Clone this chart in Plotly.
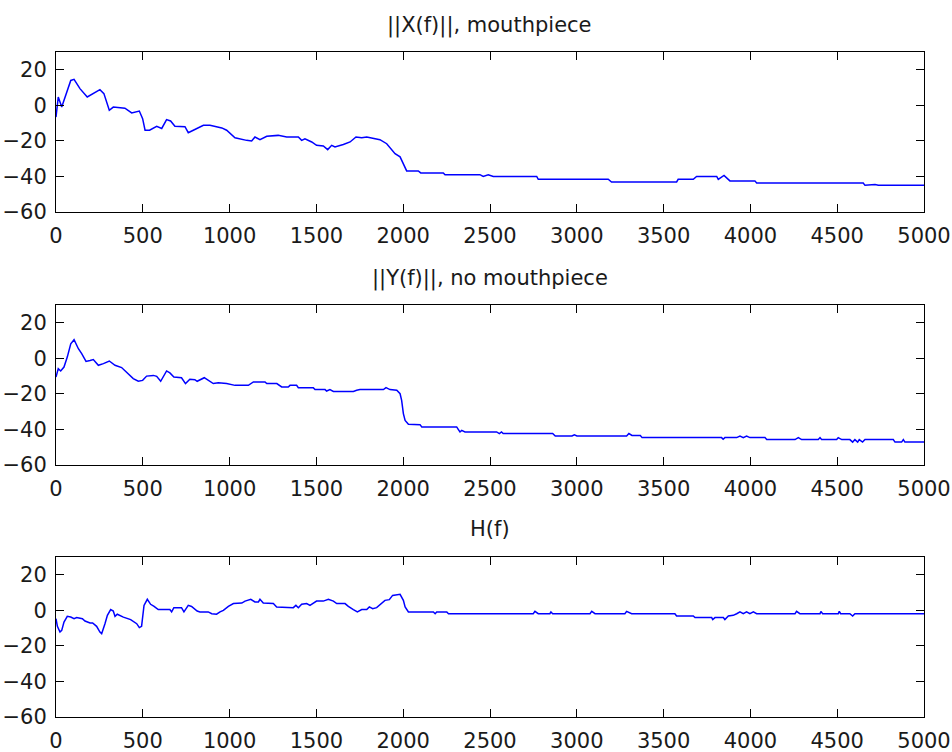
import plotly.graph_objects as go

# ---------------- data ----------------
X_f = [0, 13, 33, 52, 85, 104, 138, 180, 253, 276, 307, 330, 397, 436, 480, 499, 513, 539, 580, 609,
       637, 660, 685, 743, 762, 791, 849, 887, 955, 983, 1031, 1098, 1127, 1146, 1175, 1214, 1280, 1329, 1396, 1415,
       1434, 1473, 1501, 1540, 1565, 1588, 1607, 1655, 1694, 1728, 1761, 1790, 1866, 1905, 1953, 1982, 2001, 2020, 2087, 2101,
       2231, 2241, 2442, 2461, 2490, 2519, 2769, 2778, 3181, 3200, 3575, 3584, 3671, 3690, 3806, 3815, 3848, 3882, 4026, 4036,
       4650, 4660, 4718, 4737, 5000]
X_db = [-6.6, 4.7, -1, 4.7, 14, 14.6, 9.4, 4.7, 8.8, 6.6, -2.8, -1, -1.6, -4.3, -3.2, -7.5, -14, -14, -11.8, -13,
        -8, -8.8, -11.8, -12, -15.4, -14, -11.2, -11.2, -12.7, -14, -18.2, -19.7, -20, -17.8, -19.3, -17.4, -16.9, -17.8, -17.8, -19.7,
        -18.8, -20.6, -22.5, -22.9, -24.9, -22.5, -23.4, -22, -20.6, -17.8, -18.2, -17.8, -19.3, -21.6, -27.2, -29, -32.8, -36.9, -36.9, -38,
        -38, -39, -39, -40, -39, -40, -40, -41.6, -41.6, -43.1, -43.1, -41.6, -41.6, -40, -40, -41.6, -39.4, -42.5, -42.5, -43.7,
        -43.7, -45, -44.6, -45, -45]

Y_f = [0, 13, 27, 46, 65, 85, 104, 129, 148, 173,
       196, 215, 244, 273, 307, 340, 378, 417, 445, 474,
       499, 522, 561, 580, 603, 637, 656, 679, 723, 746,
       771, 800, 813, 854, 877, 906, 935, 983, 1031, 1108,
       1137, 1204, 1214, 1272, 1300, 1338, 1348, 1386, 1396, 1482,
       1492, 1550, 1559, 1578, 1598, 1713, 1732, 1751, 1886, 1901,
       1924, 1963, 1982, 1991, 2001, 2011, 2030, 2097, 2107, 2308,
       2318, 2327, 2337, 2356, 2538, 2554, 2566, 2576, 2861, 2876,
       2972, 2986, 3001, 3287, 3300, 3318, 3366, 3376, 3834, 3843,
       3853, 3921, 3940, 3959, 3978, 3997, 4084, 4094, 4257, 4276,
       4295, 4391, 4401, 4410, 4497, 4506, 4526, 4573, 4589, 4602,
       4618, 4627, 4646, 4660, 4823, 4833, 4871, 4881, 4890, 5000]
Y_db = [-10.5, -5.8, -7.1, -4.9, 0.7, 8.2, 10.5, 5.4, 2.6, -1.7,
        -1.2, -0.7, -3.9, -3, -1.5, -3.9, -5.2, -8.6, -11.4, -12.9,
        -12.4, -10, -9.6, -10.1, -12.9, -7.1, -8.2, -10.5, -10.9, -14.2,
        -11.8, -12, -12.9, -10.9, -12.4, -14.2, -13.8, -14.2, -15.2, -15.2,
        -13.3, -13.3, -14.2, -14.2, -16.1, -16.1, -15.2, -15.2, -16.5, -16.5,
        -17.6, -17.6, -18.4, -17.6, -18.6, -18.6, -18, -17.6, -17.6, -16.5,
        -17.6, -18, -19.9, -23.6, -31.1, -34.9, -37.1, -37.3, -38.6, -38.6,
        -40.1, -41.4, -40.5, -41.4, -41.4, -42.3, -41.4, -42.3, -42.3, -43.7,
        -43.7, -43, -43.7, -43.7, -42.3, -43.4, -43.4, -44.6, -44.6, -45.5,
        -44.6, -44.6, -43.7, -44.6, -43.7, -44.6, -44.6, -45.7, -45.7, -44.6,
        -45.7, -45.7, -44.6, -45.7, -45.7, -44.6, -45.7, -45.7, -47.1, -45.7,
        -47.1, -45.7, -47.1, -45.7, -45.7, -47.1, -47.1, -45.7, -47.1, -47.1]

H_f = [0, 8, 23, 33, 46, 65, 85, 104, 119, 152,
       167, 196, 211, 234, 253, 263, 282, 296, 315, 330,
       340, 353, 388, 430, 465, 480, 493, 499, 507, 526,
       545, 565, 589, 656, 666, 679, 723, 737, 762, 781,
       813, 829, 877, 897, 925, 945, 964, 993, 1022, 1070,
       1089, 1122, 1146, 1166, 1175, 1194, 1252, 1271, 1367, 1382,
       1396, 1415, 1444, 1463, 1486, 1501, 1540, 1569, 1598, 1617,
       1665, 1684, 1713, 1736, 1761, 1790, 1805, 1824, 1847, 1876,
       1895, 1920, 1939, 1982, 2001, 2011, 2030, 2174, 2184, 2193,
       2251, 2261, 2280, 2749, 2759, 2778, 2845, 2851, 2861, 3076,
       3086, 3105, 3277, 3287, 3316, 3565, 3575, 3671, 3681, 3777,
       3783, 3796, 3844, 3853, 3873, 3901, 3921, 3940, 3959, 3978,
       3997, 4017, 4036, 4257, 4266, 4285, 4401, 4406, 4416, 4506,
       4512, 4520, 4573, 4589, 4602, 5000]
H_db = [-4.7, -9, -12.2, -11.3, -6.6, -3.4, -3.8, -4.7, -4.1, -4.7,
        -6, -7.1, -7.1, -9, -12.2, -13.1, -7.5, -2.8, 0.4, -0.4,
        -3.4, -2.2, -3.8, -5.2, -7.5, -9.7, -9, -4.7, 2.8, 6.2,
        3.4, 2.2, 0.4, 0.4, -0.9, 1.5, 1.5, -0.9, 2.8, 2.2,
        -0.4, -0.9, -0.9, -1.9, -2.2, -0.9, 0, 2.2, 3.8, 4.1,
        5.2, 6.2, 4.7, 4.7, 6.2, 4.1, 3.8, 1.9, 1.5, 2.8,
        1.5, 3.4, 3.8, 2.8, 4.1, 5.2, 5.2, 6.2, 5.2, 3.8,
        3.8, 2.2, 0.4, -0.9, 0.4, 0.4, 1.9, 0.9, 1.5, 3.8,
        5.6, 6, 8.4, 9, 5.6, 1.9, -0.9, -0.9, -1.9, -0.9,
        -0.9, -1.9, -1.9, -1.9, -0.6, -1.9, -1.9, -0.9, -1.9, -1.9,
        -0.6, -1.9, -1.9, -0.6, -1.9, -1.9, -3.2, -3.2, -4.1, -4.1,
        -5.2, -4.1, -4.1, -5.2, -3.2, -2.8, -1.9, -0.9, -1.9, -0.9,
        -1.9, -0.9, -1.9, -1.9, -0.6, -1.9, -1.9, -0.6, -1.9, -1.9,
        -0.6, -1.9, -1.9, -3.2, -1.9, -1.9]

titles = ["||X(f)||, mouthpiece", "||Y(f)||, no mouthpiece", "H(f)"]
x_ticks = list(range(0, 5001, 500))
y_ticks = [-60, -40, -20, 0, 20]

# ---------------- layout geometry (pixels) ----------------
W, H = 952, 752
left, right = 56, 924
panels = [(52, 212), (305, 465), (557, 717)]   # top, bottom in px
title_y = [26, 278, 529]

FONT = dict(family="DejaVu Sans", size=21, color="#1a1a1a")

fig = go.Figure()
series = [(X_f, X_db), (Y_f, Y_db), (H_f, H_db)]
for i, (fx, fy) in enumerate(series):
    n = "" if i == 0 else str(i + 1)
    fig.add_trace(go.Scatter(x=fx, y=fy, mode="lines",
                             line=dict(color="#0000ff", width=1.5),
                             xaxis="x" + n, yaxis="y" + n, showlegend=False,
                             hoverinfo="skip"))
    top, bot = panels[i]
    common = dict(showline=True, linecolor="black", linewidth=1, mirror="ticks",
                  ticks="inside", ticklen=8, tickwidth=1, tickcolor="black",
                  showgrid=False, zeroline=False, tickfont=FONT, automargin=False)
    fig.layout["xaxis" + n] = dict(domain=[left / W, right / W], range=[0, 5000],
                                   tickvals=x_ticks, anchor="y" + n,
                                   ticklabelstandoff=5, **common)
    fig.layout["yaxis" + n] = dict(domain=[1 - bot / H, 1 - top / H], range=[-60, 30],
                                   tickvals=y_ticks, anchor="x" + n,
                                   ticklabelstandoff=4, **common)
    fig.add_annotation(text=titles[i], x=(left + right) / 2 / W, y=1 - title_y[i] / H,
                       xref="paper", yref="paper", xanchor="center", yanchor="middle",
                       showarrow=False, font=FONT)

fig.update_layout(template="none", width=W, height=H, margin=dict(l=0, r=0, t=0, b=0, pad=0),
                  paper_bgcolor="white", plot_bgcolor="white")

fig.write_html("out.html")
